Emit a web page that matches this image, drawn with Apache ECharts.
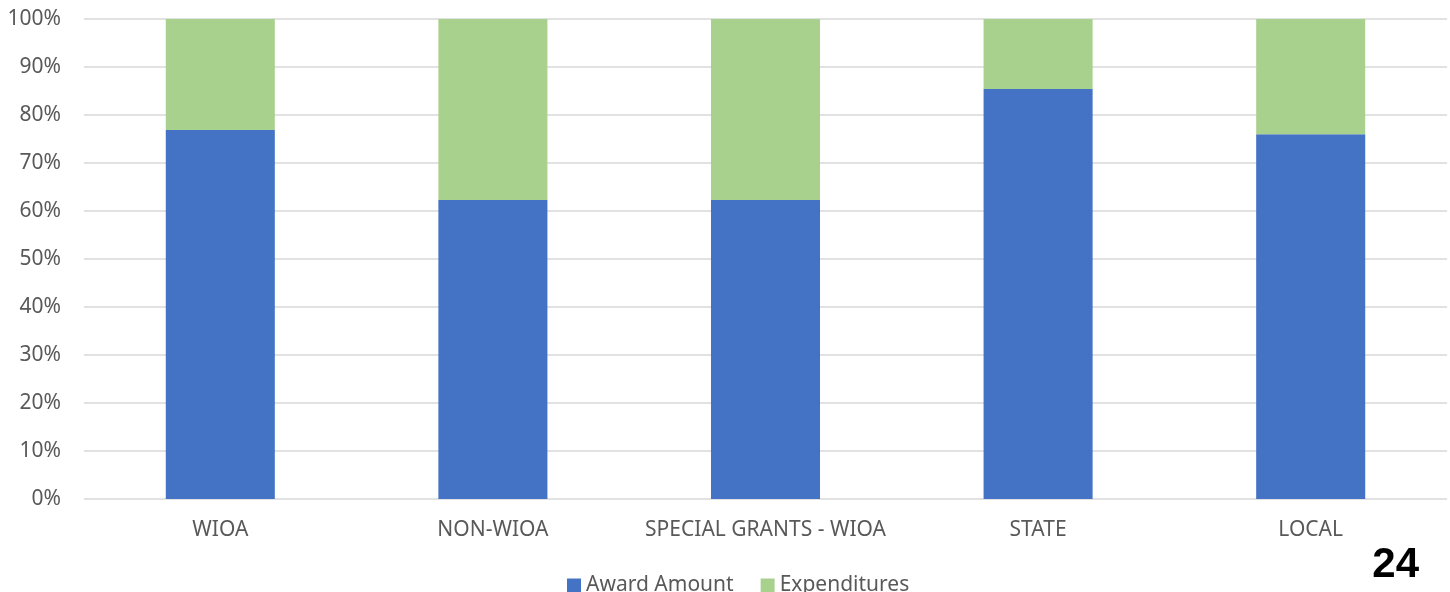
<!DOCTYPE html>
<html>
<head>
<meta charset="utf-8">
<script src="https://cdn.jsdelivr.net/npm/echarts@6/dist/echarts.min.js"></script>
<style>
  html, body { margin: 0; padding: 0; background: #fff; }
  #chart { width: 1450px; height: 592px; }
</style>
</head>
<body>
<div id="chart"></div>
<script>
// categories and share of each bar (percent)
var categories = ['WIOA', 'NON-WIOA', 'SPECIAL GRANTS - WIOA', 'STATE', 'LOCAL'];
var awardAmount = [76.9, 62.3, 62.3, 85.4, 76.0];
var expenditures = [23.1, 37.7, 37.7, 14.6, 24.0];
var yTicks = [0, 10, 20, 30, 40, 50, 60, 70, 80, 90, 100];

var labelColor = '#595959';
var font = '"Noto Sans", "Open Sans", sans-serif';

var chart = echarts.init(document.getElementById('chart'));

var option = {
  animation: false,
  grid: {
    left: 84,
    right: 3,
    top: 19,
    bottom: 93
  },
  legend: {
    data: ['Award Amount', 'Expenditures'],
    left: 562,
    top: 570,
    icon: 'rect',
    itemWidth: 14,
    itemHeight: 14,
    itemGap: 27,
    textStyle: { color: labelColor, fontSize: 21, fontFamily: font }
  },
  xAxis: {
    type: 'category',
    data: categories,
    axisLine: { show: false },
    axisTick: { show: false },
    axisLabel: { color: labelColor, fontSize: 21, fontFamily: font, margin: 21, interval: 0 }
  },
  yAxis: {
    type: 'value',
    min: yTicks[0],
    max: yTicks[yTicks.length - 1],
    interval: 10,
    axisLine: { show: false },
    axisTick: { show: false },
    splitLine: { lineStyle: { color: '#d9d9d9', width: 1.5 } },
    axisLabel: {
      color: labelColor,
      fontSize: 21,
      fontFamily: font,
      margin: 23,
      formatter: '{value}%'
    }
  },
  series: [
    {
      name: 'Award Amount',
      type: 'bar',
      stack: 'total',
      barWidth: '40%',
      itemStyle: { color: '#4472C4' },
      data: awardAmount
    },
    {
      name: 'Expenditures',
      type: 'bar',
      stack: 'total',
      itemStyle: { color: '#A9D18E' },
      data: expenditures
    }
  ],
  // page number in the corner
  graphic: [{
    type: 'text',
    right: 31,
    top: 544,
    style: {
      text: '24',
      fill: '#000',
      font: 'bold 42px "Liberation Sans", Arial, sans-serif'
    }
  }]
};

chart.setOption(option);
</script>
</body>
</html>
